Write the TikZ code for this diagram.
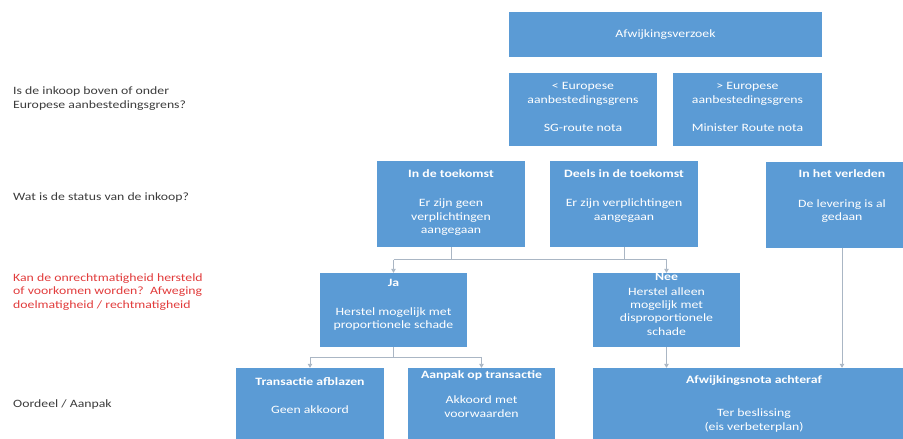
\documentclass[tikz,border=0pt]{standalone}
\usepackage{fontspec}
\setmainfont{Carlito}[FakeStretch=1.23]
\usetikzlibrary{positioning,arrows.meta}

\definecolor{blokblauw}{RGB}{91,155,213}
\definecolor{lijngrijs}{RGB}{170,182,196}
\definecolor{vraaggrijs}{RGB}{60,60,60}
\definecolor{vraagrood}{RGB}{225,60,60}

\tikzset{
  blok/.style={fill=blokblauw, draw=none, inner sep=0pt},
  tekst/.style={text=white, align=center, inner sep=0pt},
  vraag/.style={anchor=west, align=left, text=vraaggrijs, inner sep=0pt},
  lijn/.style={draw=lijngrijs, line width=0.9pt},
  pijl/.style={lijn, -{Triangle[length=4pt,width=4.5pt]}}
}

\begin{document}
\begin{tikzpicture}[x=1pt, y=1pt, every node/.style={font=\fontsize{11.2}{13.4}\selectfont}]
    \useasboundingbox (0,0) rectangle (903,-439);
    \clip (0,0) rectangle (903,-439);

    % vragen links
    \node [vraag] (v1) at (13,-98.5) {Is de inkoop boven of onder\\Europese aanbestedingsgrens?};
    \node [vraag] (v2) at (13,-198) {Wat is de status van de inkoop?};
    \node [vraag, text=vraagrood] (v3) at (13,-292) {Kan de onrechtmatigheid hersteld\\of voorkomen worden?\ \ Afweging\\doelmatigheid / rechtmatigheid};
    \node [vraag] (v4) at (13,-405) {Oordeel / Aanpak};

    % rij 1 en 2
    \node [blok, tekst, minimum width=313, minimum height=45] (verzoek) at (665.5,-34.5) {Afwijkingsverzoek};
    \node [blok, minimum width=148, minimum height=73] (onder) at (583,-109.5) {};
    \node [tekst, below=9.5pt of onder.north] (onderT) {< Europese\\aanbestedingsgrens\\[15pt]SG-route nota};
    \node [blok, minimum width=149, minimum height=73] (boven) at (747.5,-109.5) {};
    \node [tekst, below=9.5pt of boven.north] (bovenT) {> Europese\\aanbestedingsgrens\\[15pt]Minister Route nota};

    % rij 3
    \node [blok, minimum width=148, minimum height=86] (toekomst) at (451,-204) {};
    \node [tekst, below=8.5pt of toekomst.north] (toekomstT) {\textbf{In de toekomst}\\[16pt]Er zijn geen\\verplichtingen\\aangegaan};
    \node [blok, minimum width=148, minimum height=86] (deels) at (624,-204) {};
    \node [tekst, below=8.5pt of deels.north] (deelsT) {\textbf{Deels in de toekomst}\\[16pt]Er zijn verplichtingen\\aangegaan};
    \node [blok, minimum width=152, minimum height=86] (verleden) at (842,-204.5) {};
    \node [tekst, below=8.5pt of verleden.north] (verledenT) {\textbf{In het verleden}\\[16pt]De levering is al\\gedaan};

    % rij 4
    \node [blok, minimum width=147, minimum height=74] (ja) at (393.5,-310) {};
    \node [tekst, below=6.5pt of ja.north] (jaT) {\textbf{Ja}\\[15pt]Herstel mogelijk met\\proportionele schade};
    \node [blok, minimum width=147, minimum height=74] (nee) at (666.5,-310) {};
    \node [tekst, below=0.5pt of nee.north] (neeT) {\textbf{Nee}\\[1pt]Herstel alleen\\mogelijk met\\disproportionele\\schade};

    % rij 5
    \node [blok, minimum width=148, minimum height=77] (afblazen) at (310,-406.5) {};
    \node [tekst, below=9.5pt of afblazen.north] (afblazenT) {\textbf{Transactie afblazen}\\[15pt]Geen akkoord};
    \node [blok, minimum width=147, minimum height=77] (aanpak) at (481.5,-406.5) {};
    \node [tekst, below=2.5pt of aanpak.north] (aanpakT) {\textbf{Aanpak op transactie}\\[12pt]Akkoord met\\voorwaarden};
    \node [blok, minimum width=322, minimum height=77] (achteraf) at (754,-406.5) {};
    \node [tekst, below=7.5pt of achteraf.north] (achterafT) {\textbf{Afwijkingsnota achteraf}\\[20pt]Ter beslissing\\(eis verbeterplan)};

    % verbindingen
    \coordinate (railA) at (0,-259.5);
    \coordinate (railB) at (0,-357);
    \draw [lijn] (toekomst.south) -- (toekomst.south |- railA);
    \draw [lijn] (deels.south) -- (deels.south |- railA);
    \draw [lijn] (ja.north |- railA) -- (nee.north |- railA);
    \draw [pijl] (ja.north |- railA) -- (ja.north);
    \draw [pijl] (nee.north |- railA) -- (nee.north);
    \draw [lijn] (ja.south) -- (ja.south |- railB);
    \draw [lijn] (afblazen.north |- railB) -- (aanpak.north |- railB);
    \draw [pijl] (afblazen.north |- railB) -- (afblazen.north);
    \draw [pijl] (aanpak.north |- railB) -- (aanpak.north);
    \draw [pijl] (nee.south) -- (nee.south |- achteraf.north);
    \draw [pijl] (verleden.south) -- (verleden.south |- achteraf.north);
\end{tikzpicture}
\end{document}
